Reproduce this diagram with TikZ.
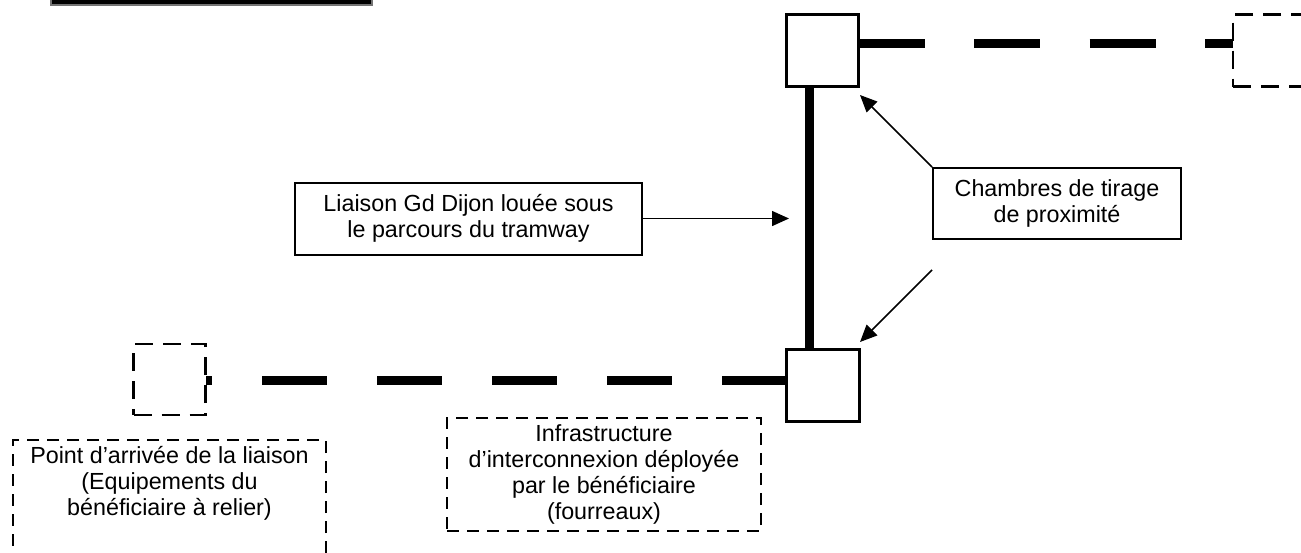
\documentclass[tikz,border=0pt]{standalone}
\usepackage{fontspec}
\setmainfont{Liberation Sans}
\usetikzlibrary{arrows.meta}
\begin{document}
\begin{tikzpicture}[x=1pt,y=-1pt,
  txt/.style={font=\fontsize{23.3}{26}\selectfont, align=center, inner sep=0pt},
  labelbox/.style={txt, draw=black, line width=2pt},
  dashbox/.style={txt, draw=black, line width=2pt, dash pattern=on 12pt off 8pt},
  chamber/.style={draw=black, line width=3pt, fill=white, minimum width=72pt, minimum height=72pt, inner sep=0pt, outer sep=0pt},
  endbox/.style={draw=black, line width=2.5pt, dash pattern=on 18pt off 10pt, inner sep=0pt, outer sep=0pt},
  fibre/.style={line width=9pt},
  gaine/.style={line width=9pt},
  pointer/.style={line width=1.5pt, -{Triangle[length=17pt,width=15pt]}}
]
\useasboundingbox (0,0) rectangle (1301,552);
\clip (0,0) rectangle (1301,552);

% top-left cut box
\node[draw=black!55, line width=2pt, fill=black, minimum width=321pt, minimum height=20pt, inner sep=0pt] (hdr) at (211.5,-5) {};

% chambers
\node[chamber] (tsq) at (822.5,50.5) {};
\node[chamber, minimum width=73pt] (bsq) at (823,385.5) {};

% end boxes
\node[endbox, minimum width=100pt, minimum height=72pt] (rb) at (1283,50.5) {};
\node[endbox, minimum width=72pt, minimum height=71pt] (lb) at (169.5,379.5) {};

% fibre link (solid) between chambers
\draw[fibre] ([xshift=-13pt]tsq.south) -- ([xshift=-13.5pt]bsq.north);

% beneficiary ducts (thick dashed)
\draw[gaine, dash pattern=on 66pt off 49.5pt] ([yshift=7.5pt]tsq.east) -- ([yshift=7.5pt]rb.west);
\draw[gaine, dash pattern=on 65pt off 50pt] ([yshift=5.5pt]bsq.west) -- ([yshift=-0.5pt]lb.east);

% text boxes
\node[labelbox, minimum width=347pt, minimum height=72pt] (liaison) at (468.5,218.5)
  {Liaison Gd Dijon louée sous\\le parcours du tramway};
\node[labelbox, minimum width=248pt, minimum height=71pt] (chb) at (1057,203.5)
  {Chambres de tirage\\de proximité};
\node[dashbox, minimum width=314pt, minimum height=113pt] (infra) at (604,474.5)
  {Infrastructure\\d’interconnexion déployée\\par le bénéficiaire\\(fourreaux)};
\node[dashbox, anchor=north, minimum width=313pt, minimum height=160pt, inner ysep=6pt] (pt) at (169.5,439)
  {\parbox[t][148pt][t]{300pt}{\centering Point d’arrivée de la liaison\\(Equipements du\\bénéficiaire à relier)}};

% pointers
\coordinate (tipL) at (789,218.5);
\coordinate (tipT) at (860,95);
\coordinate (tailB) at (932,270);
\coordinate (tipB) at (860,342);
\draw[pointer] (liaison.east) -- (tipL);
\draw[pointer] (chb.north west) -- (tipT);
\draw[pointer] (tailB) -- (tipB);
\end{tikzpicture}
\end{document}
